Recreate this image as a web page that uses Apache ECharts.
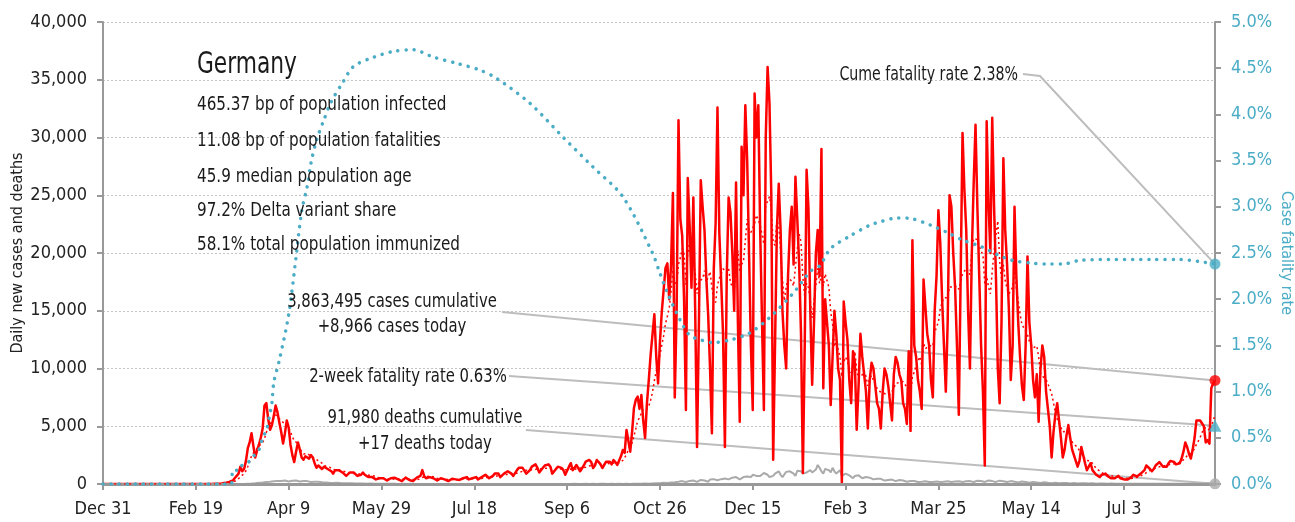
<!DOCTYPE html>
<html>
<head>
<meta charset="utf-8">
<script src="https://cdn.jsdelivr.net/npm/echarts@6/dist/echarts.min.js"></script>
<style>
html, body { margin: 0; padding: 0; background: #fff; }
#main { width: 1295px; height: 522px; }
</style>
</head>
<body>
<div id="main"></div>
<script>
var FONT = "'DejaVu Sans Condensed', 'Liberation Sans Narrow', sans-serif";

// x tick labels, one every 50 days starting Dec 31 2019
var tickLabels = ['Dec 31', 'Feb 19', 'Apr 9', 'May 29', 'Jul 18', 'Sep 6', 'Oct 26',
                  'Dec 15', 'Feb 3', 'Mar 25', 'May 14', 'Jul 3'];

// daily new cases, Dec 31 2019 .. Aug 21 2021
var cases = [
  0,0,0,0,0,0,0,0,0,0,
  0,0,0,0,0,0,0,0,0,0,
  0,0,0,0,0,0,0,0,1,3,
  0,1,1,0,2,0,1,0,0,2,
  0,2,0,0,0,0,0,0,0,0,
  0,0,0,0,0,0,0,0,1,10,
  19,2,31,53,36,156,100,209,187,200,
  300,520,700,900,1500,1100,1300,2000,3100,3600,
  4400,3300,2300,2900,3400,4000,4800,6800,7000,5600,
  4700,5100,5900,6800,6200,5300,4500,3500,4400,5500,
  4900,3400,2500,1900,2800,3600,3000,2300,2100,2400,
  2300,2200,2500,2300,1800,1400,1600,1700,1300,1500,
  1400,1300,1400,1100,900,1200,1300,1200,1100,1000,
  900,700,700,1000,1100,1000,900,700,600,800,
  1000,800,700,600,700,600,500,400,400,500,
  600,500,400,300,350,500,400,550,600,400,
  300,250,400,550,500,350,300,250,300,550,
  600,700,1200,700,500,400,600,550,500,450,
  300,400,500,450,400,300,250,350,450,500,
  400,300,350,400,500,550,600,400,300,500,
  550,600,400,350,600,700,800,750,500,400,
  700,900,850,900,600,500,900,1000,1100,1000,
  900,700,600,1200,1400,1500,1400,1300,900,800,
  1200,1500,1600,1700,1400,1000,900,1400,1600,1500,
  1700,1500,900,800,1300,1500,1600,1400,1200,800,
  780,1500,1800,1200,1400,1650,1500,1100,950,1600,
  1930,1800,2080,1900,1380,1600,2080,1900,1700,1380,
  1500,1930,2000,1930,1700,2080,1900,1650,1600,2400,
  2940,2700,4680,4850,2800,4500,6580,7300,7560,6500,
  7700,5500,3980,7000,9000,11200,11300,14700,11100,8700,
  12300,14900,16800,18700,19100,16000,19000,25200,7500,15000,
  31500,22900,21500,16000,6400,26500,22400,17000,24800,15000,
  3200,14000,26300,24000,22000,17800,14600,10000,4400,18600,
  22600,32600,21700,17500,13000,3200,18000,24800,23500,20000,
  15000,26100,14000,5400,29200,25000,32800,28000,20000,12000,
  6400,33800,30000,32800,22000,14000,6400,30000,36100,33000,
  25000,2100,12000,22000,26000,22000,15000,12000,10000,18000,
  22000,24000,19000,26600,22900,19000,13000,950,12000,27200,
  23900,15000,8600,14000,20000,22000,18000,29000,8300,16000,
  14000,12000,6840,11000,15000,13000,10000,9000,100,15800,
  14000,12500,9000,7000,11500,10500,4700,8500,13000,11000,
  9500,8000,4800,9000,10500,10000,8500,7000,6500,4800,
  8000,10000,9500,8500,7000,5500,9500,11000,10500,9500,
  9000,7000,6500,5200,11500,4600,21100,12000,11000,9000,
  8000,6500,17700,17700,13000,12000,9000,7500,15000,18000,
  23700,20900,16000,12000,8000,14000,25000,24000,20000,17000,
  12000,6000,18000,30400,25500,22000,15000,10000,20000,26000,
  31100,24000,18000,12000,8000,1600,31400,24300,20000,31700,
  24000,18000,10000,7000,14000,28200,22000,19000,15000,9000,
  12000,24000,18000,14000,11000,8500,7270,12000,19700,14000,
  12000,9000,7500,9500,5400,10000,12000,11000,8000,6500,
  5000,2300,4500,6000,7000,5500,4000,2300,3000,4200,
  5100,4000,3000,2500,2000,1500,2000,3200,2500,1800,
  1200,1500,1800,1200,1000,800,900,600,800,900,
  900,700,600,500,400,500,650,700,500,450,
  400,350,400,500,600,800,700,650,800,900,
  1000,1200,1600,1500,1300,1100,1300,1600,1700,1900,
  1800,1500,1400,1500,1800,2000,2100,1900,1700,1800,
  1800,2200,2800,3600,3200,2600,2200,3000,4000,5500,
  5400,5500,5400,5000,3600,3800,3500,8300,8700,8966
];

// daily deaths, same days
var deaths = [
  0,0,0,0,0,0,0,0,0,0,
  0,0,0,0,0,0,0,0,0,0,
  0,0,0,0,0,0,0,0,0,0,
  0,0,0,0,0,0,0,0,0,0,
  0,0,0,0,0,0,0,0,0,0,
  0,0,0,0,0,0,0,0,0,0,
  0,0,0,0,0,0,0,0,0,0,
  0,1,2,3,5,8,10,20,25,30,
  40,50,60,80,100,120,130,150,180,200,
  190,200,230,250,270,230,250,280,300,250,
  220,240,280,300,310,280,220,200,260,280,
  250,210,180,160,190,220,200,180,150,130,
  140,130,110,100,90,120,110,100,80,60,
  70,80,60,50,60,70,50,40,40,30,
  40,30,25,30,35,25,20,15,20,25,
  20,15,12,15,20,18,15,10,12,15,
  10,12,15,10,8,10,12,10,8,6,
  10,8,6,8,10,8,6,5,8,10,
  6,5,8,7,5,4,6,8,6,5,
  4,6,7,5,4,3,6,7,5,4,
  5,6,4,3,5,7,6,4,3,5,
  6,7,5,4,6,8,6,5,4,6,
  7,6,4,5,8,7,5,4,6,8,
  6,5,7,9,8,6,5,7,9,8,
  7,5,6,9,10,8,6,5,8,10,
  9,7,6,10,12,9,7,6,10,12,
  11,8,7,12,14,10,8,7,12,15,
  13,10,8,14,16,12,10,8,15,18,
  10,12,15,10,8,20,25,30,20,15,
  30,35,40,30,25,45,50,60,55,40,
  60,80,100,120,90,70,130,150,160,100,
  200,220,250,260,180,150,270,280,300,200,
  180,310,350,330,300,250,200,380,400,420,
  390,330,260,420,450,480,500,400,300,550,
  590,600,500,400,450,600,700,650,550,600,
  800,900,700,650,700,850,950,900,800,600,
  500,700,900,1000,1100,800,600,700,1050,1150,
  1100,1000,900,700,1150,1200,1100,900,800,1000,
  1150,1200,1000,900,1250,1650,1400,1100,900,1300,
  1300,1200,1000,1400,1100,900,1000,1200,700,800,
  900,800,750,600,500,700,800,750,650,500,
  450,600,650,550,500,400,350,450,500,450,
  400,300,250,350,400,380,300,250,200,350,
  320,300,250,200,180,250,280,260,220,180,
  150,200,250,230,200,180,160,180,200,220,
  210,170,150,200,250,230,200,180,150,220,
  250,240,200,170,150,230,260,250,220,180,
  200,280,300,260,210,180,240,300,280,250,
  200,180,250,290,260,230,200,170,220,250,
  240,200,160,140,180,220,200,180,150,120,
  150,180,160,140,110,90,130,150,130,100,
  80,70,100,110,90,70,60,80,90,80,
  60,50,70,80,60,50,40,60,70,60,
  50,40,50,60,40,30,30,40,50,40,
  30,30,40,40,30,20,20,30,40,30,
  30,20,20,30,30,25,20,20,25,30,
  20,15,20,25,20,15,12,20,25,20,
  20,15,20,25,20,15,15,20,25,25,
  20,15,20,25,30,20,15,20,25,30,
  30,20,15,25,30,35,20,15,30,17
];

// cumulative case fatality rate (%), read at these day indexes
var cfrDay  = [0, 69, 70, 73, 74, 78, 81, 84, 86, 88, 90, 91, 92, 95, 100, 104, 107, 110, 112, 115,
               119, 123, 129, 135, 146, 156, 167, 178, 191, 203, 212, 230, 248, 264, 280, 296, 300, 304,
               311, 316, 322, 328, 338, 348, 359, 372, 381, 386, 392, 402, 413, 419, 428, 436, 446,
               455, 463, 473, 482, 490, 500, 509, 517, 526, 545, 565, 580, 590, 599];
var cfrRate = [0, 0, 0.15, 0.15, 0.19, 0.23, 0.30, 0.37, 0.50, 0.58, 0.77, 0.88, 1.10, 1.34, 1.83, 2.46, 2.95, 3.22, 3.47, 3.72,
               3.94, 4.14, 4.34, 4.52, 4.62, 4.68, 4.70, 4.62, 4.55, 4.48, 4.39, 4.12, 3.75, 3.43, 3.11, 2.50, 2.28, 2.07,
               1.77, 1.61, 1.56, 1.53, 1.56, 1.63, 1.80, 2.07, 2.30, 2.36, 2.55, 2.68, 2.80, 2.84, 2.88, 2.87, 2.80,
               2.72, 2.64, 2.57, 2.48, 2.42, 2.39, 2.38, 2.38, 2.42, 2.43, 2.43, 2.43, 2.41, 2.38];

var twoWeekRate = 0.63;
var cumeRate = 2.38;

var statLines = [
  '465.37 bp of population infected',
  '11.08 bp of population fatalities',
  '45.9 median population age',
  '97.2% Delta variant share',
  '58.1% total population immunized'
];

// ---------------------------------------------------------------
var days = cases.map(function (v, i) { return String(i); });
var last = cases.length - 1;

// 7-day trailing mean of the daily cases
var avg7 = cases.map(function (v, i) {
  if (i < 6) return null;
  var s = 0;
  for (var k = i - 6; k <= i; k++) s += cases[k];
  return Math.round(s / 7);
});
var cfrData = cfrDay.map(function (d, i) { return [d, cfrRate[i]]; });

var BLUE = '#4bacc6';
var GREY = '#999';

var myChart = echarts.init(document.getElementById('main'));

var option = {
  animation: false,
  textStyle: { fontFamily: FONT },
  grid: { left: 103, right: 80, top: 22, bottom: 38, outerBoundsMode: 'none', containLabel: false },
  xAxis: {
    type: 'category',
    data: days,
    boundaryGap: false,
    z: 3,
    axisLine: { lineStyle: { color: GREY, width: 3 } },
    axisTick: { interval: 49, length: 6, lineStyle: { color: GREY, width: 2 } },
    axisLabel: {
      interval: 49, margin: 16, fontSize: 18, color: '#222', fontFamily: FONT,
      formatter: function (v, idx) { return tickLabels[Math.round(idx / 50)] || ''; }
    },
    splitLine: { show: false }
  },
  yAxis: [{
    type: 'value', min: 0, max: 40000, interval: 5000, position: 'left',
    name: 'Daily new cases and deaths', nameLocation: 'middle', nameGap: 77, nameMoveOverlap: false,
    nameTextStyle: { fontSize: 16, color: '#222', fontFamily: FONT },
    axisLine: { show: true, lineStyle: { color: GREY, width: 2 } },
    axisTick: { show: true, length: 6, lineStyle: { color: GREY, width: 2 } },
    axisLabel: {
      margin: 16, fontSize: 18, color: '#222', fontFamily: FONT,
      formatter: function (v) { return v.toLocaleString('en-US'); }
    },
    splitLine: { show: true, lineStyle: { color: '#c4c4c4', width: 1, type: [2, 2] } }
  }, {
    type: 'value', min: 0, max: 5, interval: 0.5, position: 'right',
    name: 'Case fatality rate', nameLocation: 'middle', nameGap: 63, nameRotate: -90, nameMoveOverlap: false,
    nameTextStyle: { fontSize: 16, color: BLUE, fontFamily: FONT },
    axisLine: { show: true, lineStyle: { color: GREY, width: 2 } },
    axisTick: { show: true, length: 6, lineStyle: { color: GREY, width: 2 } },
    axisLabel: {
      margin: 16, fontSize: 18, color: BLUE, fontFamily: FONT,
      formatter: function (v) { return v.toFixed(1) + '%'; }
    },
    splitLine: { show: false }
  }],
  series: [{
    name: 'deaths', type: 'line', data: deaths, yAxisIndex: 0,
    symbol: 'none', lineStyle: { color: '#aaa', width: 2 }, z: 1
  }, {
    name: 'cases', type: 'line', data: cases, yAxisIndex: 0,
    symbol: 'none', lineStyle: { color: '#ff0000', width: 2.5, join: 'round' }, z: 2
  }, {
    name: 'cases 7d', type: 'line', data: avg7, yAxisIndex: 0,
    symbol: 'none', lineStyle: { color: '#ff0000', width: 1.5, type: [2, 3] }, z: 4
  }, {
    name: 'cfr', type: 'line', data: cfrData, yAxisIndex: 1, smooth: 0.3,
    symbol: 'none', lineStyle: { color: BLUE, width: 3.5, type: [0.1, 8], cap: 'round' }, z: 5
  }, {
    type: 'scatter', yAxisIndex: 0, data: [[last, cases[last]]], clip: false,
    symbol: 'circle', symbolSize: 11, itemStyle: { color: '#ff0000' }, z: 6
  }, {
    type: 'scatter', yAxisIndex: 0, data: [[last, deaths[last]]], clip: false,
    symbol: 'circle', symbolSize: 11, itemStyle: { color: '#aaa' }, z: 6
  }, {
    type: 'scatter', yAxisIndex: 1, data: [[last, twoWeekRate]], clip: false,
    symbol: 'triangle', symbolSize: [13, 12], itemStyle: { color: BLUE }, z: 6
  }, {
    type: 'scatter', yAxisIndex: 1, data: [[last, cumeRate]], clip: false,
    symbol: 'circle', symbolSize: 11, itemStyle: { color: BLUE }, z: 6
  }]
};

myChart.setOption(option);

// text block and leader lines
function px(seriesIndex, pt) { return myChart.convertToPixel({ seriesIndex: seriesIndex }, pt); }
var pCase = px(4, [last, cases[last]]);
var pDeath = px(5, [last, deaths[last]]);
var pTwo = px(6, [last, twoWeekRate]);
var pCume = px(7, [last, cumeRate]);

// condensed look: squeeze the text horizontally around its anchor
function txt(s, x, y, size, align, sx) {
  return {
    type: 'text', x: x, y: y, z: 100, scaleX: sx || 0.87,
    style: { text: s, fill: '#1a1a1a', font: size + 'px ' + FONT, align: align || 'left', verticalAlign: 'middle' }
  };
}
function leader(points) {
  return {
    type: 'polyline', z: 1, silent: true,
    shape: { points: points },
    style: { stroke: '#bdbdbd', lineWidth: 2, fill: null }
  };
}

var g = [];
g.push(txt('Germany', 197, 65, 31, 'left', 0.78));
var statY = [105, 141, 177, 211, 245];
statLines.forEach(function (s, i) { g.push(txt(s, 197, statY[i], 19, 'left', 0.89)); });

g.push(txt('Cume fatality rate 2.38%', 1018, 75, 19, 'right', 0.83));
g.push(txt('3,863,495 cases cumulative', 392, 302, 19, 'center'));
g.push(txt('+8,966 cases today', 392, 327, 19, 'center'));
g.push(txt('2-week fatality rate 0.63%', 408, 377, 19, 'center'));
g.push(txt('91,980 deaths cumulative', 425, 418, 19, 'center'));
g.push(txt('+17 deaths today', 425, 444, 19, 'center'));

g.push(leader([[1023, 74], [1040, 76], pCume]));
g.push(leader([[502, 312], pCase]));
g.push(leader([[509, 376], pTwo]));
g.push(leader([[526, 430], pDeath]));

myChart.setOption({ graphic: g });
</script>
</body>
</html>
